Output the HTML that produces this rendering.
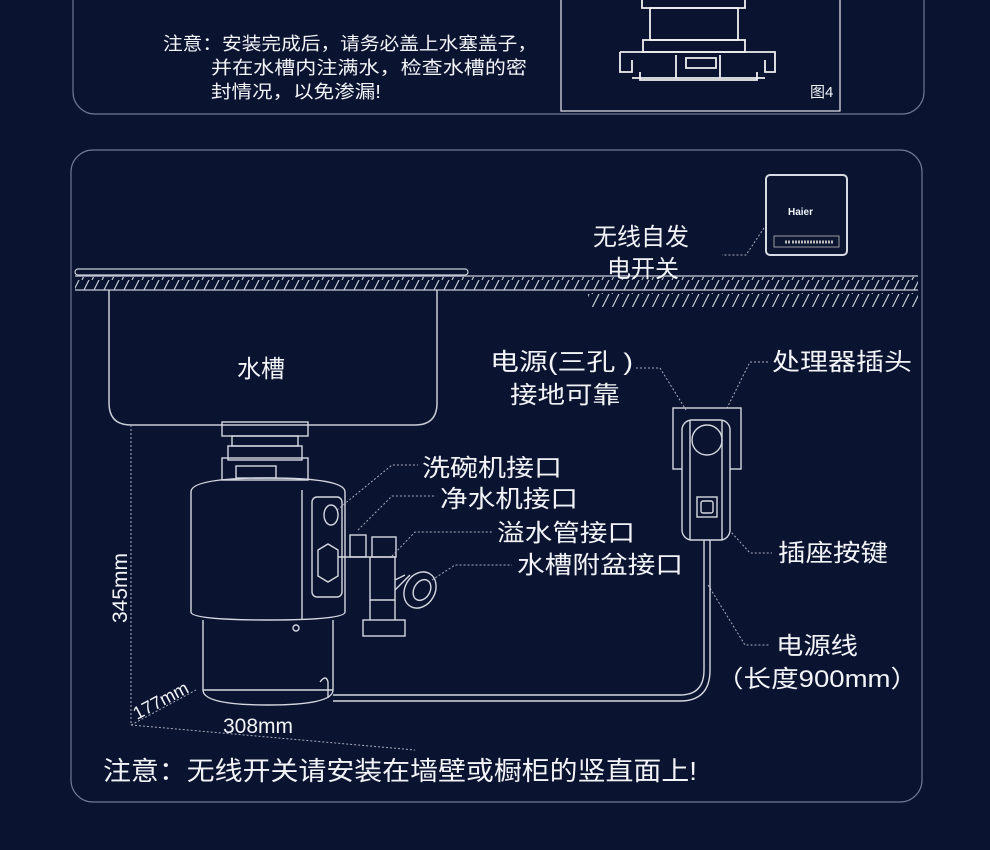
<!DOCTYPE html>
<html><head><meta charset="utf-8"><style>
html,body{margin:0;padding:0;background:#0a1430;}
svg{display:block}
text{font-family:"Liberation Sans","Noto Sans CJK SC",sans-serif;fill:#f2f4f8}
</style></head><body>
<svg width="990" height="850" viewBox="0 0 990 850" xmlns="http://www.w3.org/2000/svg">
<defs>
<pattern id="h" width="10" height="14" patternUnits="userSpaceOnUse"><line x1="2" y1="14" x2="9" y2="0" stroke="#c8ccd6" stroke-width="1.2"/></pattern>
</defs>
<rect width="990" height="850" fill="#0a1430"/>
<!-- top card -->
<rect x="73" y="-30" width="851" height="144" rx="22" fill="none" stroke="#6f7893" stroke-width="1.2"/>
<text x="163" y="50" font-size="18" textLength="374" lengthAdjust="spacingAndGlyphs">注意：安装完成后，请务必盖上水塞盖子，</text>
<text x="211" y="74" font-size="18" textLength="316" lengthAdjust="spacingAndGlyphs">并在水槽内注满水，检查水槽的密</text>
<text x="211" y="98" font-size="18" textLength="170" lengthAdjust="spacingAndGlyphs">封情况，以免渗漏!</text>
<rect x="561" y="-2" width="279" height="113" fill="none" stroke="#e8eaf0" stroke-width="1.2"/>
<g fill="none" stroke="#f0f0f0" stroke-width="1.8">
<path d="M642 0 V8 H745 V0"/>
<rect x="650" y="8" width="88" height="32"/>
<rect x="643" y="40" width="102" height="12"/>
<path d="M620 52 H775 V72 H765 V60 M620 52 V72 H632 V60"/>
<path d="M632 78 H765 M640 72 V80 H757 V72"/>
<path d="M676 55 V78 M720 55 V78 M686 58 h30 v10 h-30z"/>
</g>
<text x="810" y="97" font-size="15" font-family="Liberation Serif,serif" fill="#ddd">图4</text>
<!-- bottom card -->
<rect x="71" y="150" width="851" height="652" rx="22" fill="none" stroke="#6f7893" stroke-width="1.2"/>
<!-- counter -->
<rect x="75" y="269" width="393" height="6" rx="3" fill="none" stroke="#c8ccd6" stroke-width="1.2"/>
<line x1="75" y1="276" x2="918" y2="276" stroke="#c8ccd6" stroke-width="1.2"/>
<rect x="75" y="277" width="843" height="13" fill="url(#h)"/>
<line x1="75" y1="290" x2="918" y2="290" stroke="#c8ccd6" stroke-width="1.2"/>
<rect x="588" y="293" width="330" height="14" fill="url(#h)"/>
<!-- sink -->
<path d="M109 290 V403 Q109 425 131 425 H415 Q437 425 437 403 V290" fill="none" stroke="#c8ccd6" stroke-width="1.5"/>
<text x="237" y="377" font-size="24">水槽</text>
<!-- haier -->
<rect x="766" y="175" width="81" height="80" rx="4" fill="#0c1632" stroke="#d8dbe2" stroke-width="2"/>
<text x="788" y="215" font-size="10" font-weight="bold">Haier</text>
<rect x="774" y="236" width="65" height="11" fill="none" stroke="#bbb" stroke-width="0.8"/>
<path d="M785 242 H790 M792 242 H834" stroke="#bbb" stroke-width="3" stroke-dasharray="2 1"/>
<path d="M764 228 L746 255 H722" fill="none" stroke="#aab" stroke-dasharray="2 2"/>
<text x="593" y="245" font-size="24">无线自发</text>
<text x="607" y="277" font-size="24">电开关</text>
<!-- disposer -->
<g fill="none" stroke="#d5d8e0" stroke-width="1.4">
<rect x="222" y="422" width="86" height="14"/>
<rect x="232" y="436" width="66" height="10"/>
<rect x="228" y="446" width="74" height="14"/>
<rect x="222" y="458" width="86" height="22"/>
<rect x="236" y="466" width="40" height="12"/>
<path d="M191 492 Q191 478 268 478 Q345 478 345 492 V612 Q345 620 268 620 Q191 620 191 612 Z"/>
<line x1="302" y1="490" x2="302" y2="620"/>
<rect x="312" y="497" width="30" height="100" rx="5"/>
<ellipse cx="331" cy="515" rx="7" ry="10"/>
<path d="M318 550 l10 -6 l10 6 v26 l-10 6 l-10 -6z"/>
<path d="M203 620 V690 Q203 705 268 705 Q333 705 333 690 V620"/>
<line x1="203" y1="690" x2="333" y2="690"/>
<circle cx="296" cy="628" r="3"/>
<path d="M320 682 q6 -8 8 0 v16"/>
<path d="M338 557 H395 V600 H370 V557 M395 580 L405 575"/>
<rect x="350" y="535" width="16" height="22"/>
<rect x="372" y="537" width="24" height="20"/>
<rect x="363" y="620" width="42" height="16"/>
<path d="M370 600 V620 M395 600 V620"/>
<ellipse cx="420" cy="590" rx="15" ry="19" transform="rotate(30 420 590)"/>
<ellipse cx="422" cy="590" rx="8" ry="11" transform="rotate(30 422 590)"/>
<path d="M395 590 L410 575"/>
</g>
<!-- connector lines -->
<g fill="none" stroke="#aab" stroke-width="1" stroke-dasharray="2 2">
<path d="M337 510 L392 465 H418"/>
<path d="M358 530 L392 496 H436"/>
<path d="M392 556 L415 532 H492"/>
<path d="M432 580 L455 565 H512"/>
<path d="M636 368 H660 L686 410"/>
<path d="M768 362 H750 L726 410"/>
<path d="M713 512 L750 553 H772"/>
<path d="M708 585 L745 645 H770"/>
<path d="M131 425 V725"/>
<path d="M131 725 L196 690"/>
<path d="M131 725 L415 750"/>
</g>
<!-- plug -->
<g fill="none" stroke="#d5d8e0" stroke-width="1.4">
<rect x="673" y="408" width="68" height="61"/>
<rect x="682" y="420" width="48" height="120" rx="10" fill="#0a1430"/>
<line x1="690" y1="420" x2="690" y2="540"/>
<line x1="722" y1="420" x2="722" y2="540"/>
<circle cx="707" cy="440" r="15"/>
<rect x="697" y="497" width="20" height="20"/>
<rect x="701" y="501" width="12" height="12" rx="2"/>
<path d="M704 540 V670 Q704 695 680 695 H333"/>
<path d="M710 540 V670 Q710 701 680 701 H333"/>
</g>
<text x="490" y="370" font-size="24" textLength="143" lengthAdjust="spacingAndGlyphs">电源(三孔 )</text>
<text x="510" y="403" font-size="24" textLength="110" lengthAdjust="spacingAndGlyphs">接地可靠</text>
<text x="772" y="370" font-size="24" textLength="140" lengthAdjust="spacingAndGlyphs">处理器插头</text>
<text x="778" y="561" font-size="24" textLength="110" lengthAdjust="spacingAndGlyphs">插座按键</text>
<text x="776" y="654" font-size="24" textLength="82" lengthAdjust="spacingAndGlyphs">电源线</text>
<text x="716" y="687" font-size="24" textLength="202" lengthAdjust="spacingAndGlyphs">（长度900mm）</text>
<text x="422" y="476" font-size="24" textLength="140" lengthAdjust="spacingAndGlyphs">洗碗机接口</text>
<text x="440" y="507" font-size="24" textLength="138" lengthAdjust="spacingAndGlyphs">净水机接口</text>
<text x="497" y="541" font-size="24" textLength="138" lengthAdjust="spacingAndGlyphs">溢水管接口</text>
<text x="517" y="573" font-size="24" textLength="166" lengthAdjust="spacingAndGlyphs">水槽附盆接口</text>
<text x="127" y="623" font-size="21" transform="rotate(-90 127 623)">345mm</text>
<text x="137" y="720" font-size="18" transform="rotate(-28 137 720)">177mm</text>
<text x="223" y="733" font-size="21">308mm</text>
<text x="103" y="780" font-size="26" textLength="594" lengthAdjust="spacingAndGlyphs">注意：无线开关请安装在墙壁或橱柜的竖直面上!</text>
</svg>
</body></html>
